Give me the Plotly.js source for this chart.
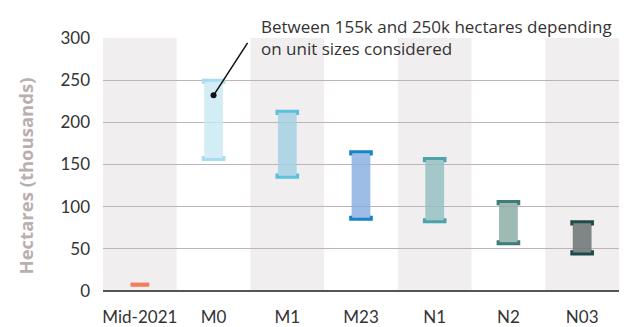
<!DOCTYPE html>
<html>
<head>
<meta charset="utf-8">
<script src="https://cdn.plot.ly/plotly-3.0.1.min.js"></script>
<style>html,body{margin:0;padding:0;background:#fff;}#chart{width:639px;height:327px;}</style>
</head>
<body>
<div id="chart"></div>
<script>
// Data
var categories = ['Mid-2021', 'M0', 'M1', 'M23', 'N1', 'N2', 'N03'];
var lowValues  = [5, 156, 135, 85, 82, 56, 44];
var highValues = [10, 250, 213, 165, 157, 106, 82];
var fillColors = ['rgba(244,125,94,1)', 'rgba(200,232,244,0.8)', 'rgba(160,208,226,0.8)', 'rgba(135,175,225,0.82)', 'rgba(146,192,193,0.82)', 'rgba(140,174,168,0.85)', 'rgba(110,120,117,0.88)'];
var capColors  = ['#f47d5e', '#a9dcee', '#5cc1dd', '#1785c6', '#4ca3a9', '#3f7c76', '#1f4b48'];
var yTicks = [0, 50, 100, 150, 200, 250, 300];
var annotationText = 'Between 155k and 250k hectares depending<br>on unit sizes considered';
var annotationPoint = {cat: 1, value: 232};

var idx = categories.map(function(_, i){ return i; });
var FONT = 'Lato, "Noto Sans", sans-serif';

var traces = [];
// range bars
traces.push({
  type: 'bar',
  x: idx,
  base: lowValues,
  y: highValues.map(function(h, i){ return h - lowValues[i]; }),
  width: 0.255,
  marker: {color: fillColors, line: {width: 0}},
  hoverinfo: 'skip',
  showlegend: false
});
// caps
var hw = 0.14, tick = 4.2;
idx.forEach(function(i){
  if (i === 0) return;
  var hi = highValues[i], lo = lowValues[i];
  traces.push({
    type: 'scatter', mode: 'lines',
    x: [i - hw, i - hw, i + hw, i + hw],
    y: [hi - tick, hi, hi, hi - tick],
    line: {color: capColors[i], width: 3},
    hoverinfo: 'skip', showlegend: false
  });
  traces.push({
    type: 'scatter', mode: 'lines',
    x: [i - hw, i - hw, i + hw, i + hw],
    y: [lo + tick, lo, lo, lo + tick],
    line: {color: capColors[i], width: 3},
    hoverinfo: 'skip', showlegend: false
  });
});

// alternating column shading
var shapes = [];
idx.forEach(function(i){
  if (i % 2 === 0) {
    shapes.push({type: 'rect', xref: 'x', yref: 'y', x0: i - 0.5, x1: i + 0.5, y0: 0, y1: 300,
      fillcolor: '#f1eef0', line: {width: 0}, layer: 'below'});
  }
});

var layout = {
  width: 639, height: 327,
  margin: {l: 103, r: 20, t: 38, b: 36},
  paper_bgcolor: '#ffffff', plot_bgcolor: 'rgba(0,0,0,0)',
  font: {family: FONT, size: 17, color: '#333333'},
  showlegend: false,
  xaxis: {
    type: 'linear', range: [-0.5, 6.5],
    tickmode: 'array', tickvals: idx, ticktext: categories,
    showgrid: false, zeroline: false, showline: false, ticks: '',
    ticklabelstandoff: 14,
    tickfont: {family: FONT, size: 17, color: '#333333'},
    fixedrange: true
  },
  yaxis: {
    range: [0, 300],
    tickmode: 'array', tickvals: yTicks,
    showgrid: true, gridcolor: '#bfb2b8', gridwidth: 1,
    zeroline: true, zerolinecolor: '#555555', zerolinewidth: 1.5,
    showline: false, ticks: '',
    ticklabelstandoff: 12,
    tickfont: {family: FONT, size: 17, color: '#333333'},
    fixedrange: true
  },
  shapes: shapes,
  annotations: [
    {
      xref: 'paper', yref: 'paper', x: -0.15, y: 0.455,
      text: 'Hectares (thousands)', textangle: -90, showarrow: false,
      font: {family: '"Open Sans", sans-serif', size: 18.5, color: '#b8afb1', weight: 'bold'},
      xanchor: 'center', yanchor: 'middle'
    },
    {
      xref: 'paper', yref: 'paper', x: 0.302, y: 1.1,
      text: annotationText, showarrow: false, align: 'left',
      xanchor: 'left', yanchor: 'top',
      font: {family: '"Open Sans", sans-serif', size: 17, color: '#333333'}
    },
    {
      xref: 'x', yref: 'y', x: annotationPoint.cat, y: annotationPoint.value,
      text: '', showarrow: true, arrowhead: 6, arrowsize: 1, arrowwidth: 1.5,
      arrowcolor: '#111111', ax: 35, ay: -54, standoff: 0
    }
  ]
};

Plotly.newPlot('chart', traces, layout, {staticPlot: true, displayModeBar: false});
</script>
</body>
</html>
